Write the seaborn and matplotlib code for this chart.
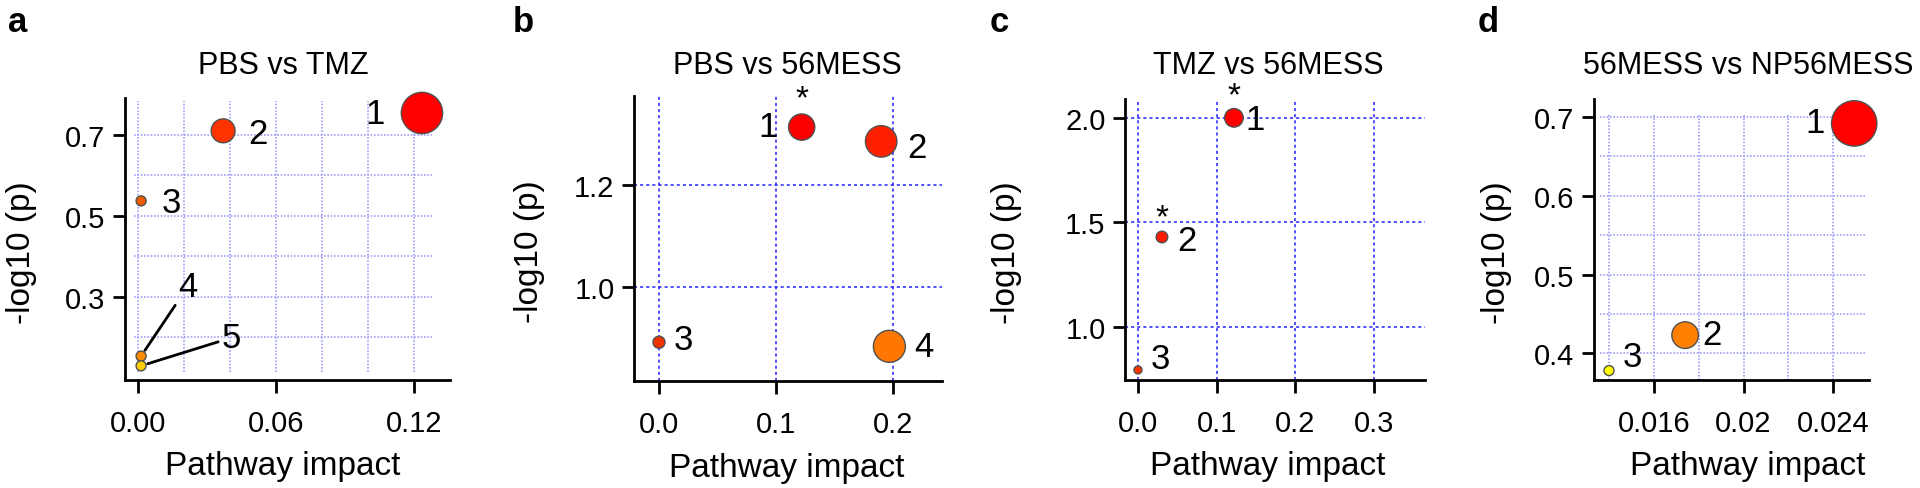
import numpy as np
import pandas as pd
import matplotlib
matplotlib.use('Agg')
import matplotlib.pyplot as plt
import seaborn as sns

# ---- data ----
# a: PBS vs TMZ
a_ids = ['1', '2', '3', '4', '5']
a_impact = [0.1235, 0.037, 0.0013, 0.0013, 0.0013]
a_logp = [0.754, 0.710, 0.537, 0.154, 0.130]

# b: PBS vs 56MESS
b_ids = ['1', '2', '3', '4']
b_impact = [0.122, 0.190, 0.0, 0.197]
b_logp = [1.314, 1.286, 0.892, 0.884]
b_sig = ['1']

# c: TMZ vs 56MESS
c_ids = ['1', '2', '3']
c_impact = [0.122, 0.0305, 0.0]
c_logp = [2.00, 1.43, 0.794]
c_sig = ['1', '2']

# d: 56MESS vs NP56MESS
d_ids = ['1', '2', '3']
d_impact = [0.02494, 0.01739, 0.01399]
d_logp = [0.692, 0.423, 0.378]

titles = ['PBS vs TMZ', 'PBS vs 56MESS', 'TMZ vs 56MESS', '56MESS vs NP56MESS']
letters = ['a', 'b', 'c', 'd']

sns.set_style('ticks')
plt.rcParams['font.family'] = ['Liberation Sans', 'DejaVu Sans']
plt.rcParams['text.color'] = 'black'
plt.rcParams['axes.labelcolor'] = 'black'
plt.rcParams['xtick.color'] = 'black'
plt.rcParams['ytick.color'] = 'black'

W, H = 1920, 489
fig = plt.figure(figsize=(W / 100, H / 100), dpi=100)


def px_axes(l, r, t, b):
    return fig.add_axes([l / W, 1 - b / H, (r - l) / W, (b - t) / H])


panels = [
    dict(ids=a_ids, x=a_impact, y=a_logp, sig=[], box=(125, 450, 99, 381),
         xlim=(-0.0057, 0.1357), ylim=(0.095, 0.791),
         xt=[0.0, 0.06, 0.12], xtl=['0.00', '0.06', '0.12'],
         yt=[0.3, 0.5, 0.7], ytl=['0.3', '0.5', '0.7'],
         sizes=(52, 887),
         pal={'1': '#FF0000', '2': '#FF3300', '3': '#F05A00', '4': '#FF8C00', '5': '#FFCC00'},
         off={'1': (-47, -1), '2': (35, -3), '3': (30, -2), '4': (47, 70), '5': (90, 28)},
         grid='fine', gx=np.arange(0, 0.121, 0.02), gy=np.arange(0.2, 0.71, 0.1),
         gxr=(-0.002, 0.128), gyr=(0.114, 0.784),
         ylab=(-0.271, 0.457), xlab=(0.486, -0.25), tx=283, lx=8),
    dict(ids=b_ids, x=b_impact, y=b_logp, sig=b_sig, box=(634, 942, 97, 382),
         xlim=(-0.0214, 0.242), ylim=(0.816, 1.375),
         xt=[0.0, 0.1, 0.2], xtl=['0.0', '0.1', '0.2'],
         yt=[1.0, 1.2], ytl=['1.0', '1.2'],
         sizes=(75, 530),
         pal={'1': '#FA0000', '2': '#FF2000', '3': '#EE3300', '4': '#FF7700'},
         off={'1': (-34, 1), '2': (36, -6), '3': (24, 3), '4': (34, 0)},
         grid='major',
         ylab=(-0.289, 0.457), xlab=(0.497, -0.25), tx=787, lx=513),
    dict(ids=c_ids, x=c_impact, y=c_logp, sig=c_sig, box=(1125, 1425, 100, 381),
         xlim=(-0.0165, 0.365), ylim=(0.746, 2.09),
         xt=[0.0, 0.1, 0.2, 0.3], xtl=['0.0', '0.1', '0.2', '0.3'],
         yt=[1.0, 1.5, 2.0], ytl=['1.0', '1.5', '2.0'],
         sizes=(33, 179),
         pal={'1': '#FF0000', '2': '#FF1A00', '3': '#FF3300'},
         off={'1': (21, -2), '2': (25, -4), '3': (22, 11)},
         grid='major',
         ylab=(-0.343, 0.457), xlab=(0.477, -0.25), tx=1268, lx=990),
    dict(ids=d_ids, x=d_impact, y=d_logp, sig=[], box=(1594, 1869, 100, 381),
         xlim=(0.01332, 0.0256), ylim=(0.366, 0.723),
         xt=[0.016, 0.02, 0.024], xtl=['0.016', '0.02', '0.024'],
         yt=[0.4, 0.5, 0.6, 0.7], ytl=['0.4', '0.5', '0.6', '0.7'],
         sizes=(52, 1067),
         pal={'1': '#FF0000', '2': '#FF8000', '3': '#FFFF00'},
         off={'1': (-39, 1), '2': (27, 1), '3': (23, 14)},
         grid='fine', gx=np.arange(0.014, 0.0241, 0.002), gy=np.arange(0.40, 0.701, 0.05),
         gxr=(0.0136, 0.0254), gyr=(0.366, 0.704),
         ylab=(-0.298, 0.457), xlab=(0.56, -0.25), tx=1748, lx=1478),
]

for i, p in enumerate(panels):
    ax = px_axes(*p['box'])
    df = pd.DataFrame({'id': p['ids'], 'impact': p['x'], 'logp': p['y']})

    # grid
    if p['grid'] == 'fine':
        ax.hlines(p['gy'], *p['gxr'], colors='#A0A0F8', linestyles=(0, (1, 1)), lw=1.2, zorder=0)
        ax.vlines(p['gx'], *p['gyr'], colors='#A0A0F8', linestyles=(0, (1, 1)), lw=1.2, zorder=0)
    else:
        ax.grid(True, color='#2020FF', linestyle=(0, (2, 2)), lw=1.1, zorder=0)

    sns.scatterplot(data=df, x='impact', y='logp', hue='id', size='impact',
                    palette=p['pal'], sizes=p['sizes'], edgecolor='#505050',
                    linewidth=1.0, legend=False, zorder=3, clip_on=False, ax=ax)

    for _, row in df.iterrows():
        dx, dy = p['off'][row['id']]
        if i == 0 and row['id'] in ('4', '5'):
            ax.annotate(row['id'], (row['impact'], row['logp']), xytext=(dx, dy),
                        textcoords='offset pixels', ha='center', va='center', fontsize=25,
                        arrowprops=dict(arrowstyle='-', lw=2, color='black',
                                        shrinkA=0, shrinkB=5))
        else:
            ax.annotate(row['id'], (row['impact'], row['logp']), xytext=(dx, dy),
                        textcoords='offset pixels', ha='center', va='center', fontsize=25)
        if row['id'] in p['sig']:
            r = 28 if i == 1 else (22 if row['id'] == '1' else 19)
            ax.annotate('*', (row['impact'], row['logp']), xytext=(0, r),
                        textcoords='offset pixels', ha='center', va='center', fontsize=24)

    ax.set_xlim(*p['xlim'])
    ax.set_ylim(*p['ylim'])
    ax.set_xticks(p['xt'], p['xtl'])
    ax.set_yticks(p['yt'], p['ytl'])
    ax.tick_params(axis='both', direction='out', length=9, width=2, labelsize=21, color='black')
    ax.tick_params(axis='x', pad=12)
    ax.tick_params(axis='y', pad=5)
    for s in ('top', 'right'):
        ax.spines[s].set_visible(False)
    for s in ('left', 'bottom'):
        ax.spines[s].set_linewidth(2)
        ax.spines[s].set_color('black')
    ax.set_xlabel('Pathway impact', fontsize=24)
    ax.set_ylabel('-log10 (p)', fontsize=24)
    ax.xaxis.set_label_coords(*p['xlab'])
    ax.yaxis.set_label_coords(*p['ylab'])

    fig.text(p['tx'] / W, 1 - 66 / H, titles[i], ha='center', va='center', fontsize=22)
    fig.text(p['lx'] / W, 1 - 23 / H, letters[i], ha='left', va='center', fontsize=25,
             fontweight='bold')

fig.savefig('out.png', dpi=100)
